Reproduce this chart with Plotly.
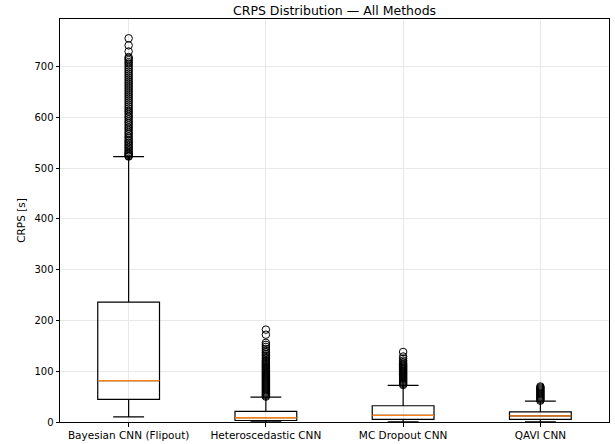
import plotly.graph_objects as go

methods = ["Bayesian CNN (Flipout)", "Heteroscedastic CNN", "MC Dropout CNN", "QAVI CNN"]
positions = [1, 2, 3, 4]
q1 = [44.6, 3.0, 5.0, 5.0]
median = [81.5, 8.5, 13.0, 12.0]
q3 = [236.0, 21.0, 32.0, 20.0]
lower_whisker = [10.0, 0.3, 0.3, 0.5]
upper_whisker = [523.0, 49.0, 72.0, 41.0]

outliers_bayes = [523, 524, 526, 528, 530, 532, 535, 538, 541, 544, 547, 550, 553, 556, 560,
                  563, 567, 570, 574, 578, 581, 585, 589, 592, 596, 600, 603, 607, 611, 614,
                  618, 622, 626, 630, 634, 638, 642, 646, 650, 654, 658, 662, 666, 670, 674,
                  678, 682, 686, 690, 694, 698, 702, 706, 709, 713, 716, 719, 730, 742, 756]
outliers_hetero = [50, 52, 54, 56, 58, 60, 62, 64, 66, 68, 70, 72, 74, 76, 78, 80, 82, 84, 86,
                   88, 90, 92, 94, 96, 98, 100, 102, 104, 106, 108, 110, 112, 114, 116, 118,
                   120, 122, 125, 128, 131, 134, 137, 140, 144, 148, 152, 156, 172, 182]
outliers_mc = [73, 75, 77, 79, 81, 83, 85, 87, 89, 91, 93, 95, 97, 99, 101, 103, 105, 107,
               109, 111, 113, 115, 118, 121, 125, 129, 138]
outliers_qavi = [42, 44, 46, 48, 50, 52, 54, 56, 58, 60, 62, 64, 66, 68, 70]
outliers = [outliers_bayes, outliers_hetero, outliers_mc, outliers_qavi]

box_width = 0.45
y_ticks = [0, 100, 200, 300, 400, 500, 600, 700]

fig = go.Figure()
for i, pos in enumerate(positions):
    fig.add_trace(go.Box(
        x=[pos], q1=[q1[i]], median=[median[i]], q3=[q3[i]],
        lowerfence=[lower_whisker[i]], upperfence=[upper_whisker[i]],
        width=box_width, whiskerwidth=0.5,
        line=dict(color="black", width=1.2), fillcolor="rgba(255,255,255,0)",
        boxpoints=False, showlegend=False, hoverinfo="skip",
    ))
    fig.add_trace(go.Scatter(
        x=[pos - box_width / 2, pos + box_width / 2], y=[median[i], median[i]],
        mode="lines", line=dict(color="#ff7f0e", width=1.4),
        showlegend=False, hoverinfo="skip",
    ))
    fig.add_trace(go.Scatter(
        x=[pos] * len(outliers[i]), y=outliers[i], mode="markers",
        marker=dict(symbol="circle-open", size=7.5, color="black", line=dict(width=1)),
        showlegend=False, hoverinfo="skip",
    ))

fig.update_layout(
    width=615, height=444,
    margin=dict(l=60, r=6, t=19, b=22, autoexpand=False),
    paper_bgcolor="white", plot_bgcolor="white",
    font=dict(family="DejaVu Sans", size=10, color="black"),
    title=dict(text="CRPS Distribution — All Methods", x=0.544, xanchor="center",
               y=0.985, yanchor="top", font=dict(size=12.5, color="black")),
    xaxis=dict(range=[0.5, 4.5], tickvals=positions, ticktext=methods, automargin=False,
               tickfont=dict(size=10.5),
               showline=True, linecolor="black", linewidth=1, mirror=True,
               ticks="outside", ticklen=3.5, tickcolor="black",
               showgrid=True, gridcolor="#e8e8e8", gridwidth=1, zeroline=False),
    yaxis=dict(range=[0, 794], tickvals=y_ticks, automargin=False,
               title=dict(text="CRPS [s]", standoff=6, font=dict(size=10.5)),
               showline=True, linecolor="black", linewidth=1, mirror=True,
               ticks="outside", ticklen=3.5, tickcolor="black",
               showgrid=True, gridcolor="#e8e8e8", gridwidth=1, zeroline=False),
)

fig.write_html("out.html", config={"displayModeBar": False},
               post_script="document.body.style.margin='0px';")
